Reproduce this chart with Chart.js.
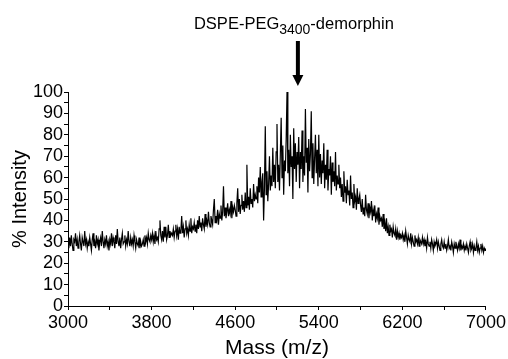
<!DOCTYPE html>
<html>
<head>
<meta charset="utf-8">
<script src="https://cdn.jsdelivr.net/npm/chart.js@4"></script>
<style>
  html, body { margin: 0; padding: 0; background: #fff; }
  #wrap { width: 508px; height: 359px; }
</style>
</head>
<body>
<div id="wrap"><canvas id="c" width="508" height="359"></canvas></div>
<script>
// ---- data ----
const mzStart = 3000;
const mzStep = 8;
const intensity = [
  30,27,32,28,33,29,26,31,30,34,28,31,27,30,33,29,26,32,30,28,35,29,31,27,30,
  28,32,29,26,31,34,28,30,27,33,29,31,26,30,32,28,35,30,27,31,29,33,28,30,26,
  31,29,34,28,32,30,27,33,29,36,30,28,32,27,31,34,29,30,33,28,31,29,35,30,28,
  32,29,31,28,33,30,27,31,29,28,32,27,30,28,29,31,28,33,30,32,29,34,31,30,33,
  31,34,30,33,29,35,31,32,30,36,40,33,31,35,30,37,32,37,31,33,38,32,35,33,34,
  33,36,32,35,38,33,36,31,37,34,35,42,34,37,32,36,40,34,36,33,38,35,41,34,37,
  36,39,35,38,34,40,36,42,37,39,35,41,38,36,43,37,40,38,44,39,37,42,40,38,45,
  50,39,42,40,45,38,43,41,47,40,44,56,42,46,41,44,48,42,45,43,49,41,46,44,47,
  45,42,48,55,44,50,43,47,52,45,49,44,53,46,66,47,51,45,55,48,50,46,57,49,52,
  50,56,48,60,53,65,51,58,62,40,55,84,52,63,49,57,70,54,61,56,74,58,66,55,72,
  85,58,66,54,71,88,60,75,52,68,63,78,100,62,73,56,80,65,70,50,83,64,76,58,72,
  66,79,55,72,64,82,58,70,61,92,67,74,53,78,63,71,91,60,76,57,69,80,62,73,56,
  80,60,71,57,68,62,76,55,66,59,73,54,64,61,70,52,67,58,63,56,72,54,61,57,66,
  55,60,51,57,49,63,53,56,48,59,52,54,47,61,50,53,46,57,49,51,45,55,48,50,52,
  47,44,50,43,46,42,52,45,43,48,41,46,44,49,40,45,42,47,39,43,41,46,38,42,40,
  41,37,43,36,39,35,41,34,37,33,38,35,36,32,37,34,33,36,31,35,32,34,31,33,32,
  34,31,33,30,35,32,29,33,31,30,34,29,32,30,28,33,30,31,29,32,28,31,30,29,32,
  29,31,28,30,27,32,29,28,30,27,31,29,26,30,28,29,31,27,30,28,26,29,31,28,27,
  30,27,29,26,28,31,27,28,26,30,28,25,29,27,30,28,26,29,27,31,26,28,27,29,26,
  28,26,29,27,25,28,30,26,27,29,25,28,26,27,30,26,28,25,27,29,26,28,25,27,26,
  27
];
const xMin = 3000, xMax = 7000, xStep = 400, xLabelEvery = 800;
const yMin = 0, yMax = 100, yStep = 5, yLabelEvery = 10;
const xTitle = 'Mass (m/z)';
const yTitle = '% Intensity';
const annotMain = 'DSPE-PEG';
const annotSub = '3400';
const annotTail = '-demorphin';
const arrowMass = 5200;

const points = intensity.map((v, i) => ({ x: mzStart + i * mzStep, y: v }));
const FONT = "'Liberation Sans', Arial, Helvetica, sans-serif";

const annotPlugin = {
  id: 'annot',
  afterDraw(chart) {
    const ctx = chart.ctx;
    const px = chart.scales.x.getPixelForValue(arrowMass);
    ctx.save();
    ctx.fillStyle = '#000';
    ctx.textBaseline = 'alphabetic';
    const mainFont = '16.5px ' + FONT;
    const subFont = '14px ' + FONT;
    ctx.font = mainFont;
    const w1 = ctx.measureText(annotMain).width;
    const w3 = ctx.measureText(annotTail).width;
    ctx.font = subFont;
    const w2 = ctx.measureText(annotSub).width;
    const total = w1 + w2 + w3;
    let x = px - 4 - total / 2;
    const base = 29;
    ctx.textAlign = 'left';
    ctx.font = mainFont; ctx.fillText(annotMain, x, base); x += w1;
    ctx.font = subFont; ctx.fillText(annotSub, x, base + 5); x += w2;
    ctx.font = mainFont; ctx.fillText(annotTail, x, base);
    // arrow
    ctx.strokeStyle = '#000';
    ctx.lineWidth = 4;
    ctx.beginPath();
    ctx.moveTo(px, 41);
    ctx.lineTo(px, 77);
    ctx.stroke();
    ctx.beginPath();
    ctx.moveTo(px - 5.5, 75);
    ctx.lineTo(px + 5.5, 75);
    ctx.lineTo(px, 86);
    ctx.closePath();
    ctx.fill();
    ctx.restore();
  }
};

new Chart(document.getElementById('c'), {
  type: 'line',
  data: {
    datasets: [{
      data: points,
      borderColor: '#000',
      borderWidth: 1.2,
      pointRadius: 0,
      tension: 0,
      fill: false
    }]
  },
  options: {
    responsive: false,
    animation: false,
    events: [],
    layout: { padding: { top: 92, right: 21, left: 0, bottom: 0 } },
    plugins: { legend: { display: false }, tooltip: { enabled: false } },
    scales: {
      x: {
        type: 'linear',
        min: xMin, max: xMax,
        afterFit(s) { s.height = 53; },
        border: { display: true, color: '#000', width: 1 },
        grid: { display: true, drawOnChartArea: false, drawTicks: true, tickLength: 4, color: '#000' },
        ticks: {
          stepSize: xStep, autoSkip: false, maxRotation: 0, padding: 2,
          color: '#000', font: { family: FONT, size: 18 },
          callback: v => ((v - xMin) % xLabelEvery === 0 ? String(v) : '')
        },
        title: { display: true, text: xTitle, color: '#000', font: { family: FONT, size: 21, lineHeight: 1 }, padding: { top: 0, bottom: 0 } }
      },
      y: {
        min: yMin, max: yMax,
        afterFit(s) { s.width = 68; },
        border: { display: true, color: '#000', width: 1 },
        grid: { display: true, drawOnChartArea: false, drawTicks: true, tickLength: 4, color: '#000' },
        ticks: {
          stepSize: yStep, autoSkip: false, padding: 1,
          color: '#000', font: { family: FONT, size: 18 },
          callback: v => (v % yLabelEvery === 0 ? String(v) : '')
        },
        title: { display: true, text: yTitle, color: '#000', font: { family: FONT, size: 20, lineHeight: 1 }, padding: { top: 10, bottom: 0 } }
      }
    }
  },
  plugins: [annotPlugin]
});
</script>
</body>
</html>
